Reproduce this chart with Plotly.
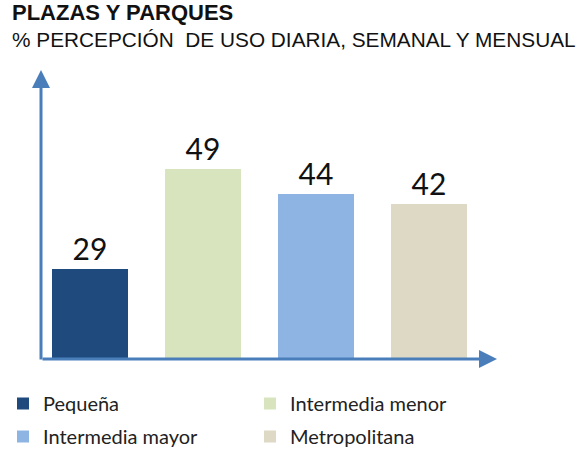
import plotly.graph_objects as go

# Data
categorias = ['Pequeña', 'Intermedia menor', 'Intermedia mayor', 'Metropolitana']
valores = [29, 49, 44, 42]
colores = ['#1F4A7E', '#D7E4BD', '#8DB4E2', '#DDD9C4']
leyendas = ['legend', 'legend2', 'legend', 'legend2']

fig = go.Figure()
for cat, val, col, lg in zip(categorias, valores, colores, leyendas):
    fig.add_trace(go.Bar(
        x=[cat], y=[val], name=cat, legend=lg, legendgroup=cat,
        marker=dict(color=col, line=dict(width=0)),
        width=0.67,
        text=[str(val)], textposition='outside',
        textfont=dict(family='Lato', size=30, color='#111111'),
        cliponaxis=False, hoverinfo='skip',
    ))

axisColour = '#4A7EBB'
legFont = dict(family='Lato', size=20, color='#222222')
W, H = 585, 450
fig.update_layout(
    width=W, height=H,
    margin=dict(l=41, r=88, t=70, b=91, autoexpand=False),
    paper_bgcolor='white', plot_bgcolor='white',
    showlegend=True,
    bargap=0,
    xaxis=dict(range=[-0.434, 3.602], showticklabels=False, showgrid=False,
               zeroline=False, showline=False, fixedrange=True),
    yaxis=dict(range=[11, 68.8], showticklabels=False, showgrid=False,
               zeroline=False, showline=False, fixedrange=True),
    legend=dict(x=3 / W, y=(H - 384) / H, xref='container', yref='container',
                xanchor='left', yanchor='top', tracegroupgap=4,
                font=legFont, traceorder='grouped'),
    legend2=dict(x=250 / W, y=(H - 384) / H, xref='container', yref='container',
                 xanchor='left', yanchor='top', tracegroupgap=4,
                 font=legFont, traceorder='grouped'),
    annotations=[
        dict(text='<b>PLAZAS Y PARQUES</b>', xref='paper', yref='paper',
             x=-0.068, y=(359 - 27) / 289, xanchor='left', yanchor='bottom', showarrow=False,
             font=dict(family='Liberation Sans', size=22, color='#111111')),
        dict(text='% PERCEPCIÓN  DE USO DIARIA, SEMANAL Y MENSUAL', xref='paper', yref='paper',
             x=-0.068, y=(359 - 53) / 289, xanchor='left', yanchor='bottom', showarrow=False,
             font=dict(family='Liberation Sans', size=20.8, color='#111111')),
        # y axis arrow
        dict(x=0, y=1, xref='paper', yref='paper', ax=0, ay=291, axref='pixel', ayref='pixel',
             showarrow=True, arrowhead=2, arrowsize=1.2, arrowwidth=3, arrowcolor=axisColour,
             text='', standoff=0),
        # x axis arrow
        dict(x=1, y=0, xref='paper', yref='paper', ax=-456, ay=0, axref='pixel', ayref='pixel',
             showarrow=True, arrowhead=2, arrowsize=1.2, arrowwidth=3, arrowcolor=axisColour,
             text='', standoff=0),
    ],
)

fig.write_html('out.html', config={'displayModeBar': False},
               post_script="document.body.style.margin='0';")
